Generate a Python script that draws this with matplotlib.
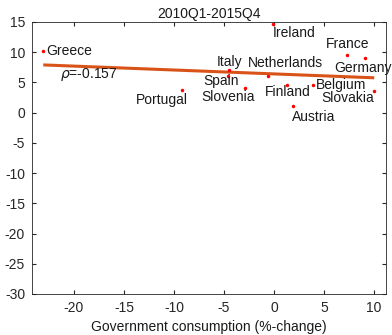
import numpy as np
import matplotlib
matplotlib.use("Agg")
import matplotlib.pyplot as plt

plt.rcParams['font.family'] = ['Liberation Sans', 'DejaVu Sans']
plt.rcParams['axes.unicode_minus'] = False

countries = ['Greece', 'Ireland', 'France', 'Germany', 'Italy', 'Spain',
             'Netherlands', 'Slovenia', 'Finland', 'Belgium', 'Slovakia',
             'Austria', 'Portugal']
gov_cons = [-23.07, -0.13, 7.33, 9.10, -4.47, -4.63,
            -0.60, -2.93, 1.27, 3.87, 10.03, 1.93, -9.17]
output = [10.2, 14.6, 9.5, 9.0, 7.05, 6.06,
          6.06, 4.1, 4.5, 4.6, 3.6, 1.1, 3.7]
rho = -0.157

# label placement (data coords, alignment)
label_pos = {
    'Greece': (-22.73, 10.2, 'left'),
    'Ireland': (-0.13, 13.13, 'left'),
    'France': (7.35, 11.3, 'center'),
    'Germany': (8.9, 7.33, 'center'),
    'Italy': (-4.45, 8.33, 'center'),
    'Netherlands': (1.1, 8.16, 'center'),
    'Spain': (-5.3, 5.23, 'center'),
    'Slovenia': (-4.6, 2.63, 'center'),
    'Finland': (1.4, 3.46, 'center'),
    'Belgium': (6.7, 4.57, 'center'),
    'Slovakia': (7.4, 2.37, 'center'),
    'Austria': (4.0, -0.68, 'center'),
    'Portugal': (-11.23, 2.1, 'center'),
}

x = np.array(gov_cons)
y = np.array(output)
slope, icpt = np.polyfit(x, y, 1)
xf = np.array([x.min(), x.max()])

fig = plt.figure(figsize=(3.92, 3.35), dpi=100)
ax = fig.add_axes([0.0816, 0.1224, 0.903, 0.812])

ax.plot(xf, slope * xf + icpt, color='#D95319', lw=2.2, solid_capstyle='butt')
ax.plot(x, y, '.', color='red', ms=3)

for name in countries:
    tx, ty, ha = label_pos[name]
    ax.text(tx, ty, name, ha=ha, va='center', fontsize=10, color='#1a1a1a',
            clip_on=False)
ax.text(-18.5, 6.39, r'$\rho$=%.3f' % rho, ha='center', va='center',
        fontsize=10, color='#1a1a1a')

ax.set_xlim(-24.2, 11.2)
ax.set_ylim(-30, 15)
ax.set_xticks(np.arange(-20, 11, 5))
ax.set_yticks(np.arange(-30, 16, 5))
ax.tick_params(direction='in', top=True, right=True, length=3, pad=5,
               labelsize=10, color='#262626', labelcolor='#262626')
for s in ax.spines.values():
    s.set_color('#262626')
    s.set_linewidth(0.6)
ax.set_title('2010Q1-2015Q4', fontsize=10, pad=3, color='#1a1a1a')
ax.set_xlabel('Government consumption (%-change)', fontsize=10, labelpad=4,
              color='#1a1a1a')

fig.savefig('out.png', dpi=100)
